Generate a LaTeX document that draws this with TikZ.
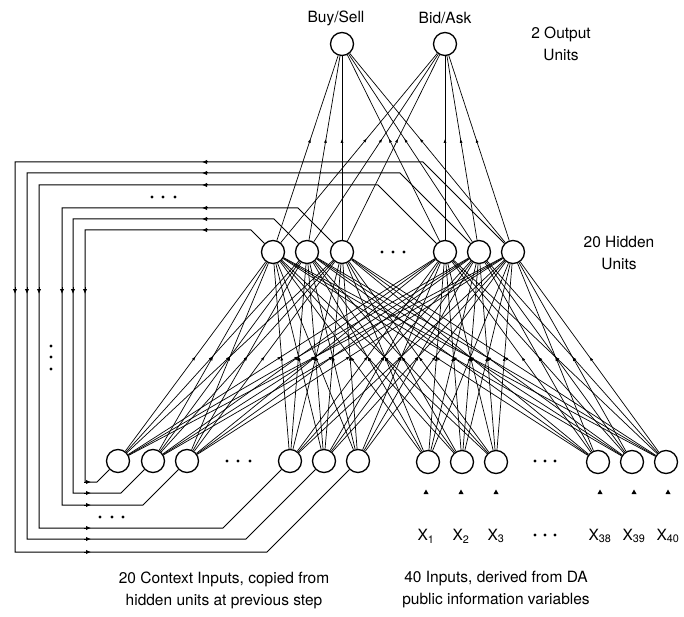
\documentclass[tikz,border=0pt]{standalone}
\usepackage{fontspec}
\setmainfont{TeX Gyre Heros}
\usetikzlibrary{arrows.meta,decorations.markings,calc}
\begin{document}
\begin{tikzpicture}[x=1pt,y=-1pt,
  neuron/.style={circle,draw,line width=1.3pt,fill=white,minimum size=23pt,inner sep=0pt},
  conn/.style={line width=0.7pt,postaction={decorate},decoration={markings,mark=at position #1 with {\arrow{Latex[length=4pt,width=3pt]}}}},
  conn/.default=0.5,
  fb/.style={line width=1pt},
  fbtip/.style={-{Latex[length=5pt,width=4.5pt]},line width=1pt},
  lbl/.style={font=\fontsize{15.5}{22}\selectfont,align=center,inner sep=0pt},
]
\useasboundingbox (0,0) rectangle (684,617);

% output units
\node[neuron] (o1) at (342,44) {};
\node[neuron] (o2) at (445,44) {};
\node[lbl] (lo1) at (336,18) {Buy/Sell};
\node[lbl] (lo2) at (445,18) {Bid/Ask};
\node[lbl] (lout) at (561,44) {2 Output\\Units};
\node[lbl] (lhid) at (619,253) {20 Hidden\\Units};

% hidden units
\foreach \j/\x in {1/273,2/307,3/342,4/445,5/479,6/513}
  \node[neuron] (h\j) at (\x,252) {};
% context units
\foreach \j/\x in {1/118,2/153,3/187,4/290,5/324,6/358}
  \node[neuron] (c\j) at (\x,461) {};
% input units
\foreach \j/\x in {1/428,2/462,3/496,4/598,5/632,6/666}
  \node[neuron] (i\j) at (\x,462) {};

% input labels
\foreach \j/\x/\s in {1/426/1,2/461/2,3/496/3,4/600/38,5/634/39,6/668/40}{
  \node[lbl] (xl\j) at (\x,536) {X\textsubscript{\s}};
  \fill (\x-2.5,494) -- (\x+2.5,494) -- (\x,489.5) -- cycle;
}

% bottom captions
\node[lbl] (cap1) at (224,590) {20 Context Inputs, copied from\\hidden units at previous step};
\node[lbl] (cap2) at (496,590) {40 Inputs, derived from DA\\public information variables};

% input -> hidden
\foreach \a in {1,...,6}
  \foreach \b in {1,...,6}{
    \draw[conn] (c\a) -- (h\b);
    \draw[conn] (i\a) -- (h\b);
  }
% hidden -> output
\foreach \b in {1,...,6}
  \foreach \k in {1,2}
    \draw[conn=0.55] (h\b) -- (o\k);

% feedback copy lines
\foreach \i/\T/\V/\B in {1/230/85/482,2/219/73/493,3/208/62/505,4/185/39/528,5/173/27/539,6/162/15/552}{
  \draw[fb] let \p1=(h\i.135), \p2=(c\i.225) in
    (h\i.135) -- ({\x1+(\y1)+\T*1pt},{-\T*1pt}) -- ({\V*1pt},{-\T*1pt})
    -- ({\V*1pt},{-\B*1pt}) -- ({\x2-(\y2+\B*1pt)},{-\B*1pt}) -- (c\i.225);
  \draw[fbtip] (208,\T) -- (202,\T);
  \draw[fbtip] (\V,287) -- (\V,294);
  \draw[fbtip] (84,\B) -- (91,\B);
}

% ellipses
\foreach \x/\y in {382/252,393/252,404/252, 227/461,238/461,250/461, 535/461,545/461,555/461,
                   535/535,545/535,555/535, 152/197,163/197,175/197, 100/517,112/517,123/517,
                   51/346,51/357,51/369}
  \fill (\x,\y) circle[radius=1.7pt];
\end{tikzpicture}
\end{document}
